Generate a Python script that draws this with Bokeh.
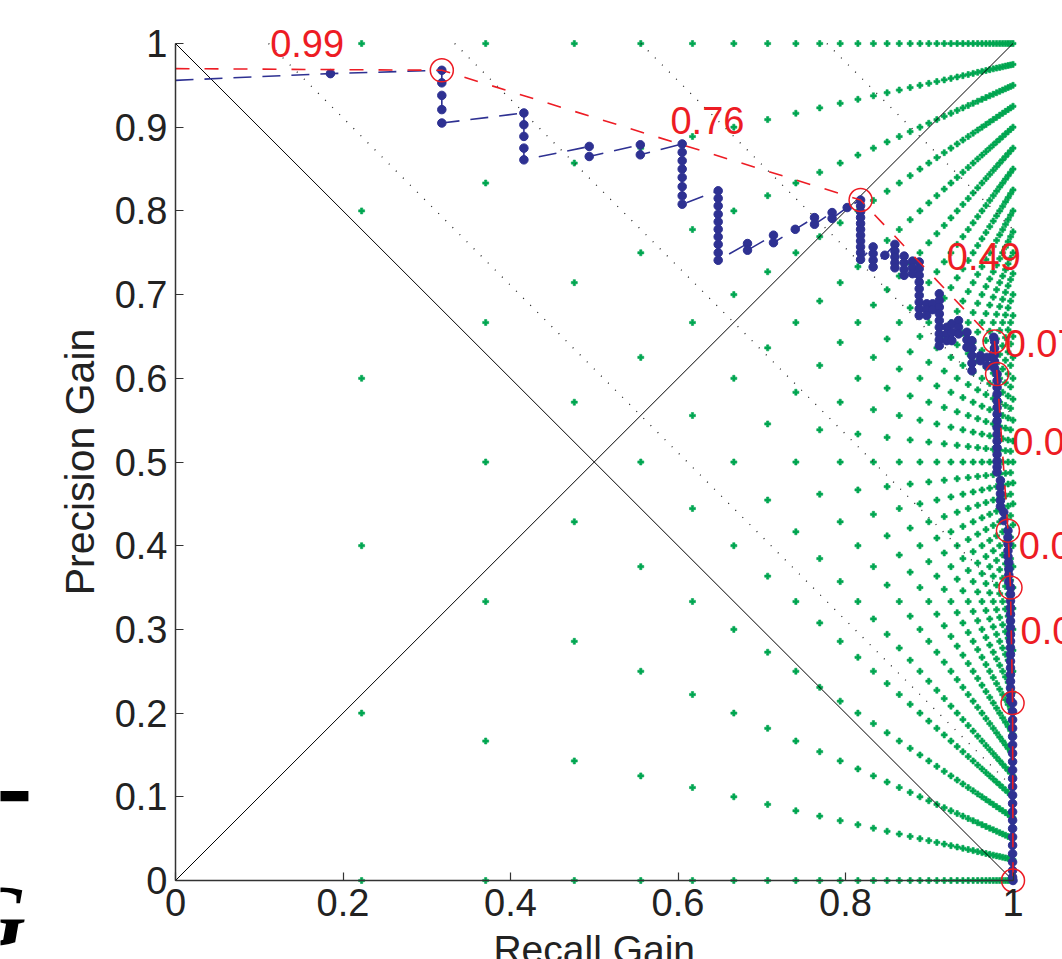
import numpy as np
from bokeh.plotting import figure
from bokeh.models import Range1d, FixedTicker, Label, BasicTickFormatter
from bokeh.core.properties import value
from bokeh.embed import file_html
from bokeh.resources import INLINE

# ---------------- data ----------------
# PRG curve (recall gain, precision gain), in curve order
rec_gain = [
    0.0, 0.185,
    0.318, 0.318, 0.318, 0.318, 0.318,
    0.416, 0.416, 0.416, 0.416, 0.416,
    0.494, 0.494,
    0.555, 0.555,
    0.605, 0.605, 0.605, 0.605, 0.605, 0.605, 0.605, 0.605,
    0.648, 0.648, 0.648, 0.648, 0.648, 0.648, 0.648, 0.648, 0.648, 0.648,
    0.683, 0.683,
    0.714, 0.714,
    0.740,
    0.763, 0.763,
    0.784, 0.784,
    0.802,
    0.818, 0.818, 0.818, 0.818, 0.818, 0.818, 0.818, 0.818, 0.818, 0.818, 0.818,
    0.833, 0.833, 0.833, 0.833,
    0.847,
    0.859, 0.859, 0.859, 0.859, 0.859,
    0.870, 0.870, 0.870, 0.870,
    0.880, 0.880, 0.880,
    0.888, 0.888, 0.888, 0.888, 0.888, 0.888, 0.888, 0.888, 0.888,
    0.897, 0.897, 0.897,
    0.904, 0.904,
    0.912, 0.912, 0.912, 0.912, 0.912, 0.912, 0.912, 0.912, 0.912,
    0.921, 0.921, 0.921,
    0.927, 0.927, 0.927,
    0.935, 0.935, 0.935,
    0.945, 0.945, 0.945,
    0.951, 0.951, 0.951, 0.951, 0.951,
    0.961, 0.961,
    0.969, 0.969,
    0.977, 0.978, 0.978, 0.978, 0.978, 0.978,
    0.981, 0.981, 0.981, 0.981, 0.981, 0.981, 0.981, 0.981, 0.981, 0.981,
    0.981, 0.981, 0.981, 0.981, 0.981, 0.981,
    0.985, 0.985, 0.985, 0.985, 0.985,
    0.989, 0.989,
    0.994, 0.994, 0.994, 0.994, 0.994,
    0.995, 0.995, 0.995, 0.995,
    0.997, 0.997, 0.997, 0.997, 0.997, 0.997, 0.997, 0.997, 0.997, 0.997,
    0.997, 0.997, 0.997, 0.997, 0.997, 0.997, 0.997, 0.997,
    0.9995, 0.9995, 0.9995, 0.9995, 0.9995, 0.9995, 0.9995, 0.9995, 0.9995,
    0.9995, 0.9995, 0.9995, 0.9995, 0.9995, 0.9995, 0.9995, 0.9995, 0.9995,
    0.9995, 0.9995, 0.9995, 0.9995,
    1.0,
]
prec_gain = [
    0.956, 0.964,
    0.968, 0.953, 0.938, 0.921, 0.905,
    0.917, 0.903, 0.889, 0.875, 0.861,
    0.877, 0.865,
    0.879, 0.867,
    0.880, 0.870, 0.860, 0.850, 0.840, 0.829, 0.818, 0.808,
    0.824, 0.815, 0.806, 0.796, 0.787, 0.778, 0.769, 0.760, 0.750, 0.741,
    0.761, 0.753,
    0.771, 0.762,
    0.778,
    0.792, 0.784,
    0.798, 0.791,
    0.804,
    0.813, 0.806, 0.799, 0.792, 0.785, 0.778, 0.771, 0.764, 0.757, 0.750, 0.742,
    0.757, 0.749, 0.741, 0.733,
    0.747,
    0.760, 0.752, 0.745, 0.738, 0.732,
    0.746, 0.738, 0.730, 0.723,
    0.740, 0.732, 0.725,
    0.739, 0.731, 0.723, 0.715, 0.707, 0.699, 0.691, 0.683, 0.675,
    0.689, 0.682, 0.675,
    0.689, 0.682,
    0.701, 0.693, 0.685, 0.677, 0.669, 0.661, 0.653, 0.646, 0.639,
    0.661, 0.653, 0.645,
    0.665, 0.655, 0.645,
    0.669, 0.661, 0.653,
    0.655, 0.646, 0.637,
    0.645, 0.636, 0.627, 0.618, 0.609,
    0.627, 0.621,
    0.625, 0.615,
    0.649, 0.644, 0.636, 0.628, 0.620, 0.612,
    0.605, 0.597, 0.589, 0.581, 0.573, 0.565, 0.557, 0.549, 0.541, 0.533,
    0.525, 0.517, 0.509, 0.501, 0.494, 0.488,
    0.478, 0.470, 0.462, 0.454, 0.447,
    0.440, 0.430,
    0.418, 0.410, 0.402, 0.394, 0.387,
    0.380, 0.372, 0.365, 0.357,
    0.350, 0.342, 0.334, 0.326, 0.318, 0.310, 0.302, 0.294, 0.286, 0.278,
    0.270, 0.262, 0.254, 0.246, 0.238, 0.230, 0.222, 0.215,
    0.212, 0.202, 0.192, 0.182, 0.172, 0.162, 0.152, 0.142, 0.132,
    0.122, 0.112, 0.102, 0.092, 0.082, 0.072, 0.062, 0.052, 0.042,
    0.032, 0.022, 0.012, 0.004,
    0.0,
]

# Convex hull (non-dominated points); first entry is where the hull enters at recall gain 0
hull_rec = [0.0, 0.318, 0.818, 0.978, 0.981, 0.994, 0.997, 0.9995, 1.0]
hull_prec = [0.970, 0.968, 0.813, 0.644, 0.605, 0.418, 0.350, 0.212, 0.0]

# Hull segment annotations
hull_label_text = ["0.99", "0.76", "0.49", "0.07", "0.04", "0.02", "0.01"]
hull_label_x = [0.113, 0.591, 0.921, 0.990, 0.999, 1.007, 1.009]
hull_label_y = [1.000, 0.908, 0.745, 0.642, 0.525, 0.400, 0.299]

# F1-gain isometrics drawn dotted (values of F-gain)
iso_fgain = [5 / 9, 6 / 9, 7 / 9, 8 / 9]

# Background grid: regular ROC grid (tpr, fpr in steps of 1/40) with pos/neg = 1/9
grid_steps = 40
pos_neg_ratio = 1 / 9

# Reference diagonals
diag_x = [0, 1]
diag_up = [0, 1]
diag_down = [1, 0]

x_ticks = [0, 0.2, 0.4, 0.6, 0.8, 1]
y_ticks = [0, 0.1, 0.2, 0.3, 0.4, 0.5, 0.6, 0.7, 0.8, 0.9, 1]

# ---------------- derived grid ----------------
tpr, fpr = np.meshgrid(np.arange(1, grid_steps + 1) / grid_steps,
                       np.arange(0, grid_steps + 1) / grid_steps)
tpr = tpr.ravel(); fpr = fpr.ravel()
g_rec = 1 - pos_neg_ratio * (1 / tpr - 1)
g_prec = 1 - fpr / tpr
keep = (g_rec > 1e-6) & (g_rec <= 1 + 1e-9) & (g_prec >= -1e-9) & (g_prec <= 1 + 1e-9)
g_rec = g_rec[keep]; g_prec = g_prec[keep]

iso_xs = [[2 * f - 1, 1] for f in iso_fgain]
iso_ys = [[1, 2 * f - 1] for f in iso_fgain]

# ---------------- plot ----------------
BLUE = "#2E3192"
RED = "#ED1C24"
GREEN = "#00A651"
FONT = "Liberation Sans"

p = figure(width=1062, height=959,
           x_range=Range1d(-175 / 837.5, 887 / 837.5),
           y_range=Range1d(-79 / 837, 880 / 837),
           output_backend="svg", toolbar_location=None,
           min_border_left=0, min_border_right=0,
           min_border_top=0, min_border_bottom=0)
p.xgrid.visible = False
p.ygrid.visible = False
p.outline_line_color = None
p.background_fill_color = "white"
p.border_fill_color = "white"

p.scatter(g_rec, g_prec, marker="plus", size=6, fill_color=GREEN,
          line_color=GREEN, line_width=0.6)

p.multi_line(iso_xs, iso_ys, line_color="#222222", line_width=1.3, line_dash="1 9")

p.line(diag_x, diag_up, line_color="black", line_width=1)
p.line(diag_x, diag_down, line_color="black", line_width=1)

p.line(rec_gain, prec_gain, line_color=BLUE, line_width=1.6, line_dash="18 11")
p.scatter(rec_gain[1:], prec_gain[1:], marker="circle", size=8.5,
          fill_color=BLUE, line_color=BLUE)

p.line(hull_rec, hull_prec, line_color=RED, line_width=1.6, line_dash="14 15")
p.scatter(hull_rec[1:], hull_prec[1:], marker="circle", size=23, fill_color=None,
          line_color=RED, line_width=1.5)

p.text(hull_label_x, hull_label_y, text=hull_label_text, text_color=RED,
       text_font=value(FONT), text_font_size="38px",
       text_align="left", text_baseline="middle")

# axes (fixed at data 0, drawn inside the full-canvas frame)
xa = p.xaxis[0]
ya = p.yaxis[0]
xa.ticker = FixedTicker(ticks=x_ticks)
ya.ticker = FixedTicker(ticks=y_ticks)
xa.fixed_location = 0
ya.fixed_location = 0
for ax in (xa, ya):
    ax.bounds = (0, 1)
    ax.formatter = BasicTickFormatter(precision=1)
    ax.major_label_overrides = {0: "0", 1: "1"}
    ax.axis_line_color = "#333333"
    ax.axis_line_width = 1.5
    ax.major_tick_line_color = "#333333"
    ax.major_tick_line_width = 1.2
    ax.major_tick_in = 8
    ax.major_tick_out = 0
    ax.minor_tick_line_color = None
    ax.major_label_text_font = FONT
    ax.major_label_text_font_size = "38px"
    ax.major_label_text_color = "#222222"
    ax.major_label_standoff = 8

ya.axis_label = "Precision Gain"
ya.axis_label_text_font = FONT
ya.axis_label_text_font_size = "41px"
ya.axis_label_text_font_style = "normal"
ya.axis_label_text_color = "#222222"
ya.axis_label_standoff = 9

p.add_layout(Label(x=0.5, y=-0.083, text="Recall Gain", text_align="center",
                   text_baseline="alphabetic", text_font=FONT,
                   text_font_size="39px", text_color="#222222"))

# fragments of neighbouring typeset text at the left edge
p.add_layout(Label(x=-0.1767, y=0.1004, text="\u2501", text_align="right",
                   text_baseline="middle", text_font="DejaVu Sans Mono",
                   text_font_size="60px", text_color="black"))
p.add_layout(Label(x=-0.179, y=-0.042, text="G", text_align="right",
                   text_baseline="alphabetic", text_font="Liberation Serif",
                   text_font_style="bold italic", text_font_size="86px", text_color="black"))

open("out.html", "w").write(file_html(p, INLINE))
